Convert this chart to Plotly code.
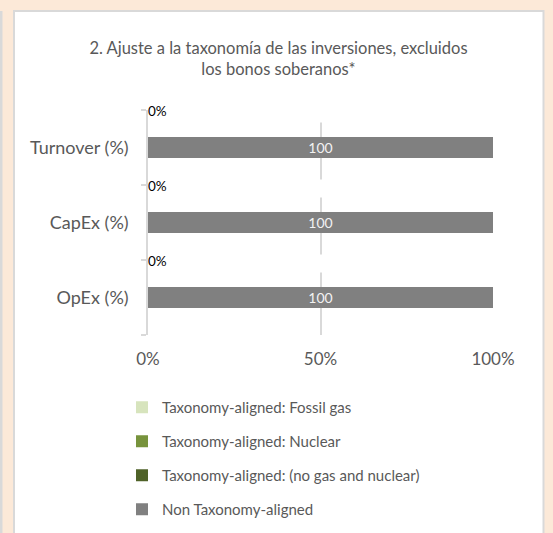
import plotly.graph_objects as go

# ---- data ----
categories = ["Turnover (%)", "CapEx (%)", "OpEx (%)"]
fossil_gas = [0, 0, 0]
nuclear = [0, 0, 0]
aligned_no_gas_nuclear = [0, 0, 0]
non_aligned = [100, 100, 100]
x_tick_vals = [0, 50, 100]
x_tick_text = ["0%", "50%", "100%"]
title_text = "2. Ajuste a la taxonomía de las inversiones, excluidos<br>los bonos soberanos*"

W, H = 553, 533
ML, MR, MT, MB = 148, 60, 110, 198
PW, PH = W - ML - MR, H - MT - MB

def px2x(px):
    return (px - ML) / PW

def py2y(py):
    return 1 - (py - MT) / PH

FONT = "Lato, Carlito, Calibri, sans-serif"
GREY_TXT = "#595959"
GRID = "#D9D9D9"

ypos = list(range(len(categories)))

fig = go.Figure()
series = [
    ("Taxonomy-aligned: Fossil gas", fossil_gas, "#D7E4BD"),
    ("Taxonomy-aligned: Nuclear", nuclear, "#77933C"),
    ("Taxonomy-aligned: (no gas and nuclear)", aligned_no_gas_nuclear, "#4F6228"),
    ("Non Taxonomy-aligned", non_aligned, "#808080"),
]
for i, (name, vals, col) in enumerate(series):
    is_last = i == len(series) - 1
    fig.add_trace(go.Bar(
        name=name, x=vals, y=ypos, orientation="h",
        marker=dict(color=col, line=dict(width=0)),
        legendgroup=f"g{i}",
        text=[f"{v:g}" for v in vals] if is_last else None,
        textposition="inside" if is_last else "none",
        insidetextanchor="middle",
        constraintext="none",
        textfont=dict(family=FONT, size=14, color="#F2F2F2"),
        hoverinfo="skip",
    ))

# "0%" labels of the aligned series sitting at the category boundaries
fig.add_trace(go.Scatter(
    x=aligned_no_gas_nuclear, y=[p - 0.47 for p in ypos], mode="text",
    text=[f"{v:g}%" for v in aligned_no_gas_nuclear],
    textposition="middle right",
    textfont=dict(family=FONT, size=13.5, color="#000000"),
    showlegend=False, hoverinfo="skip", cliponaxis=False,
))

annotations = []
for p in ypos:
    annotations.append(dict(
        x=x_tick_vals[1], y=p - 0.45, xref="x", yref="y", text=" ",
        showarrow=False, bgcolor="white", width=8, height=15,
        font=dict(size=10),
    ))

shapes = [
    dict(type="rect", xref="paper", yref="paper", layer="below",
         x0=px2x(14), x1=px2x(543.5), y0=py2y(560), y1=py2y(11),
         fillcolor="white", line=dict(color=GRID, width=2)),
    dict(type="line", xref="paper", yref="paper", layer="below",
         x0=px2x(1), x1=px2x(1), y0=py2y(11), y1=py2y(540),
         line=dict(color=GRID, width=3)),
]

fig.update_layout(
    width=W, height=H,
    margin=dict(l=ML, r=MR, t=MT, b=MB, pad=0, autoexpand=False),
    paper_bgcolor="#FCE9D8",
    plot_bgcolor="rgba(0,0,0,0)",
    barmode="stack", bargap=0.71,
    font=dict(family=FONT, color=GREY_TXT),
    title=dict(text=title_text, x=278.5 / W, xanchor="center",
               y=1 - 54 / H, yanchor="middle", yref="container",
               font=dict(family=FONT, size=16.5, color=GREY_TXT, lineposition="none")),
    xaxis=dict(range=[0, 100], tickvals=x_tick_vals, ticktext=x_tick_text,
               showgrid=True, gridcolor=GRID, gridwidth=1.5, zeroline=False,
               showline=False, ticks="", ticklabelstandoff=12, automargin=False,
               tickfont=dict(family=FONT, size=17, color=GREY_TXT)),
    yaxis=dict(range=[len(categories) - 0.5, -0.5], tickvals=ypos, ticktext=categories,
               showgrid=False, zeroline=False, showline=True, linecolor=GRID,
               linewidth=1.5, ticks="", ticklabelstandoff=14, automargin=False,
               tickfont=dict(family=FONT, size=18, color=GREY_TXT),
               minor=dict(tickmode="array",
                          tickvals=[p - 0.5 for p in ypos] + [ypos[-1] + 0.5],
                          ticks="outside", ticklen=5, tickcolor=GRID,
                          tickwidth=1.5, showgrid=False)),
    legend=dict(orientation="v", x=px2x(122), xanchor="left",
                y=py2y(391), yanchor="top", traceorder="grouped",
                tracegroupgap=11.5, font=dict(family=FONT, size=15, color=GREY_TXT),
                bgcolor="rgba(0,0,0,0)"),
    shapes=shapes,
    annotations=annotations,
    showlegend=True,
)

fig.write_html(
    "out.html",
    config={"displayModeBar": False},
    post_script="document.body.style.margin='0';document.body.style.background='#FCE9D8';",
)
